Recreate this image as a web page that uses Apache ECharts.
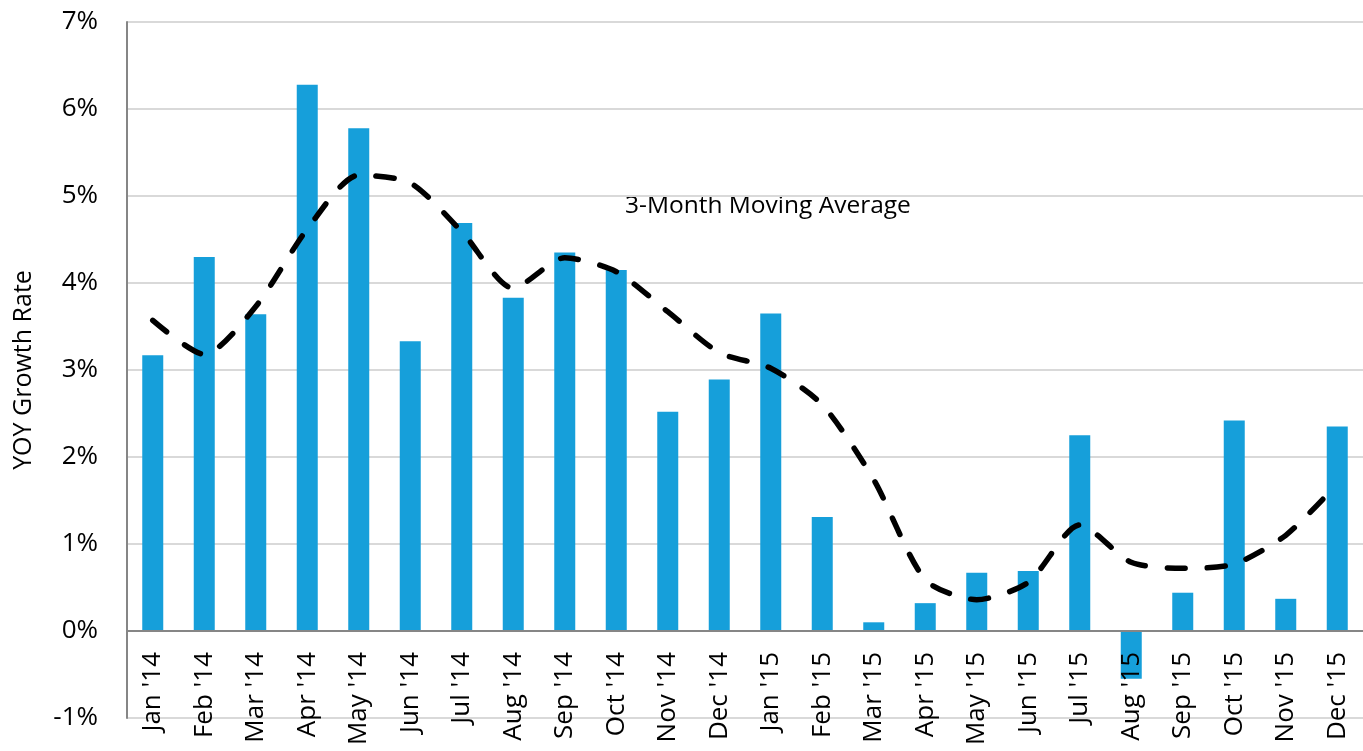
<!DOCTYPE html>
<html>
<head>
<meta charset="utf-8">
<script src="https://cdn.jsdelivr.net/npm/echarts@6/dist/echarts.min.js"></script>
<style>
  html, body { margin: 0; padding: 0; background: #fff; }
  #chart { width: 1363px; height: 751px; }
</style>
</head>
<body>
<div id="chart"></div>
<script>
  // 月份
  const months = ["Jan '14", "Feb '14", "Mar '14", "Apr '14", "May '14", "Jun '14", "Jul '14", "Aug '14",
    "Sep '14", "Oct '14", "Nov '14", "Dec '14", "Jan '15", "Feb '15", "Mar '15", "Apr '15", "May '15",
    "Jun '15", "Jul '15", "Aug '15", "Sep '15", "Oct '15", "Nov '15", "Dec '15"];
  // 同比增长率 (%)
  const yoyGrowth = [3.17, 4.30, 3.64, 6.28, 5.78, 3.33, 4.69, 3.83, 4.35, 4.15, 2.52, 2.89,
    3.65, 1.31, 0.10, 0.32, 0.67, 0.69, 2.25, -0.55, 0.44, 2.42, 0.37, 2.35];
  // 3个月移动平均
  const movingAvg = [3.57, 3.18, 3.73, 4.62, 5.24, 5.15, 4.59, 3.94, 4.29, 4.13, 3.67, 3.20,
    3.02, 2.60, 1.74, 0.59, 0.36, 0.56, 1.22, 0.79, 0.72, 0.77, 1.10, 1.69];
  const annotation = "3-Month Moving Average";

  const chart = echarts.init(document.getElementById("chart"));
  const font = "'Open Sans', 'Noto Sans', sans-serif";
  chart.setOption({
    animation: false,
    textStyle: { fontFamily: font },
    grid: { left: 127, right: 0, top: 22, bottom: 33, outerBoundsMode: "none", containLabel: false },
    graphic: [
      {
        type: "text",
        left: 625,
        top: 194,
        style: { text: annotation, fontSize: 24.5, fontFamily: font, fill: "#000" }
      }
    ],
    xAxis: {
      type: "category",
      data: months,
      z: 5, // 标签盖在柱子上面
      axisLine: { onZero: true, lineStyle: { color: "#868686", width: 2 } },
      axisTick: { show: false },
      // 标签紧贴零线下方
      axisLabel: { rotate: 90, fontSize: 26, color: "#000", margin: -66, interval: 0 }
    },
    yAxis: {
      type: "value",
      min: -1,
      max: 7,
      interval: 1,
      name: "YOY Growth Rate",
      nameLocation: "middle",
      nameGap: 91,
      nameTextStyle: { fontSize: 25, color: "#000" },
      axisLine: { show: true, lineStyle: { color: "#868686", width: 2 } },
      axisTick: { show: false },
      axisLabel: { formatter: "{value}%", fontSize: 26, color: "#000", margin: 29 },
      splitLine: { lineStyle: { color: "#d9d9d9", width: 2 } }
    },
    series: [
      {
        name: "YOY Growth",
        type: "bar",
        data: yoyGrowth,
        barWidth: 21,
        itemStyle: { color: "#169fda" }
      },
      {
        name: "3-Month Moving Average",
        type: "line",
        data: movingAvg,
        smooth: 0.25,
        symbol: "none",
        z: 3,
        lineStyle: { color: "#000", width: 5.5, type: [18, 22], cap: "round" }
      }
    ]
  });
</script>
</body>
</html>
